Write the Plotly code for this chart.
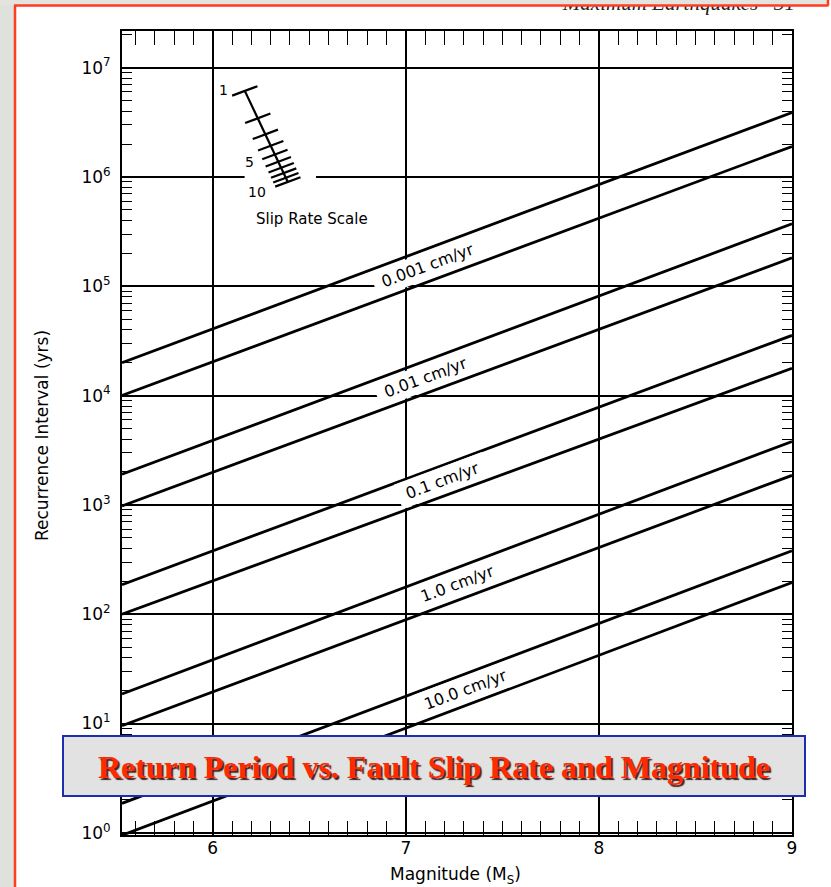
import math
import numpy as np
import plotly.graph_objects as go

W, H = 831, 887

# ---- data -------------------------------------------------------------
# Each slip rate is drawn as a band: an upper and a lower recurrence line,
# given by their recurrence intervals (years) at the two ends of the
# magnitude axis.
slip_rates = ["0.001", "0.01", "0.1", "1.0", "10.0"]
magnitude_ends = [5.53, 9.0]
upper_start = [19950, 1905, 186, 18.6, 1.86]
upper_end = [3.89e6, 3.72e5, 3.55e4, 3.80e3, 380]
lower_start = [10000, 977, 100, 9.55, 0.95]
lower_end = [1.90e6, 1.82e5, 1.78e4, 1.86e3, 195]

# magnitude at which each band's label is written
label_magnitudes = [7.11, 7.10, 7.19, 7.27, 7.31]

x_tick_values = [6, 7, 8, 9]
y_decades = [0, 1, 2, 3, 4, 5, 6, 7]

# one-decade slip-rate ruler (1 .. 10)
ruler_values = [1, 2, 3, 4, 5, 6, 7, 8, 9, 10]
ruler_labelled = ["1", "5", "10"]

# ---- geometry helpers --------------------------------------------------
X_RANGE = [magnitude_ends[0], magnitude_ends[1]]
Y_RANGE = [-0.02, 7.335]
PLOT_L, PLOT_R, PLOT_T, PLOT_B = 122, 792, 31, 835
px_per_mag = (PLOT_R - PLOT_L) / (X_RANGE[1] - X_RANGE[0])
px_per_dec = (PLOT_B - PLOT_T) / (Y_RANGE[1] - Y_RANGE[0])


def fx(px):
    return px / W


def fy(py):
    return 1 - py / H


def log_at(m, v0, v1):
    t = (m - magnitude_ends[0]) / (magnitude_ends[1] - magnitude_ends[0])
    return math.log10(v0) + t * (math.log10(v1) - math.log10(v0))


FONT = "DejaVu Sans, Liberation Sans, Arial, sans-serif"
NBSP = "\u00a0"

fig = go.Figure()

# slip-rate ruler geometry: one decade laid perpendicular to the bands
slope = (math.log10(upper_end[0]) - math.log10(upper_start[0])) / (magnitude_ends[1] - magnitude_ends[0])
angle = math.degrees(math.atan(slope * px_per_dec / px_per_mag))
ruler_origin = (6.166, 6.787)          # magnitude, log10(years) of the "1" end
ruler_step = (0.2228, -0.8326)         # per decade of slip rate

# white gap in the 10^6 grid line behind the ruler
fig.add_trace(go.Scatter(
    x=[6.165, 6.535], y=[1e6, 1e6], mode="lines",
    line=dict(color="white", width=6), hoverinfo="skip", showlegend=False,
))

# recurrence lines
for i, rate in enumerate(slip_rates):
    for start, end in ((upper_start, upper_end), (lower_start, lower_end)):
        fig.add_trace(go.Scatter(
            x=magnitude_ends, y=[start[i], end[i]], mode="lines",
            line=dict(color="black", width=2.8),
            hoverinfo="skip", showlegend=False,
        ))

annotations = []
for i, rate in enumerate(slip_rates):
    m = label_magnitudes[i]
    mid = 0.5 * (log_at(m, upper_start[i], upper_end[i]) + log_at(m, lower_start[i], lower_end[i]))
    annotations.append(dict(
        x=m, y=mid, xref="x", yref="y", text=f"{NBSP}{rate} cm/yr{NBSP}", showarrow=False,
        xanchor="center", yanchor="middle",
        textangle=-angle, bgcolor="white", borderpad=3,
        font=dict(family=FONT, size=16, color="black"),
    ))

a = math.radians(angle)
half = 13.5
tick_dm = half * math.cos(a) / px_per_mag
tick_dl = half * math.sin(a) / px_per_dec

rx, ry = [], []
p0 = ruler_origin
p1 = (ruler_origin[0] + ruler_step[0], ruler_origin[1] + ruler_step[1])
rx += [p0[0], p1[0], None]
ry += [10 ** p0[1], 10 ** p1[1], None]
tick_ends = {}
for v in ruler_values:
    f = math.log10(v)
    cm = ruler_origin[0] + f * ruler_step[0]
    cl = ruler_origin[1] + f * ruler_step[1]
    left = (cm - tick_dm, cl - tick_dl)
    right = (cm + tick_dm, cl + tick_dl)
    tick_ends[str(v)] = left
    rx += [left[0], right[0], None]
    ry += [10 ** left[1], 10 ** right[1], None]
fig.add_trace(go.Scatter(x=rx, y=ry, mode="lines", line=dict(color="black", width=2.2),
                         hoverinfo="skip", showlegend=False, connectgaps=False))

label_shift = {"1": (-2, 6), "5": (-6, -3), "10": (-7, -5)}
for lab in ruler_labelled:
    lm, ll = tick_ends[lab]
    dx, dy = label_shift[lab]
    annotations.append(dict(
        x=lm, y=ll, xref="x", yref="y", text=lab, showarrow=False,
        xanchor="right", yanchor="middle", xshift=dx, yshift=dy,
        font=dict(family=FONT, size=14, color="black"),
    ))

annotations.append(dict(
    x=fx(312), y=fy(219), xref="paper", yref="paper", text="Slip Rate Scale",
    xanchor="center", yanchor="middle",
    showarrow=False, font=dict(family=FONT, size=15, color="black"),
))

# running header of the page (cut by the top edge)
fig.add_trace(go.Scatter(
    x=[795], y=[5], mode="text", text=["Maximum Earthquakes   31"],
    textposition="middle left", cliponaxis=False,
    textfont=dict(family="Liberation Serif, serif", size=21, style="italic", color="#222222"),
    xaxis="x2", yaxis="y2", hoverinfo="skip", showlegend=False,
))

# axis titles
annotations.append(dict(
    x=fx(42), y=fy(436), xref="paper", yref="paper", text="Recurrence Interval (yrs)",
    xanchor="center", yanchor="middle",
    textangle=-90, showarrow=False, font=dict(family=FONT, size=17, color="black"),
))
annotations.append(dict(
    x=fx(455), y=fy(875), xref="paper", yref="paper", text="Magnitude (M<sub>S</sub>)",
    xanchor="center", yanchor="middle",
    showarrow=False, font=dict(family=FONT, size=17, color="black"),
))

# slide caption
annotations.append(dict(
    x=fx(434), y=fy(767), xref="paper", yref="paper",
    text="Return Period vs. Fault Slip Rate and Magnitude", showarrow=False,
    xanchor="center", yanchor="middle",
    font=dict(family="Liberation Serif, Times New Roman, serif", size=32, color="#ff2a00",
              weight="bold", shadow="2px 2px 1px rgba(40,0,0,0.85)"),
))

shapes = [
    # slide frame
    dict(type="rect", xref="paper", yref="paper", x0=0, x1=fx(14), y0=0, y1=1,
         fillcolor="#dfe1dc", line=dict(width=0), layer="above"),
    dict(type="rect", xref="paper", yref="paper", x0=0, x1=fx(828), y0=fy(5), y1=1,
         fillcolor="#e3e4e0", line=dict(width=0), layer="above"),
    dict(type="line", xref="paper", yref="paper", x0=fx(15), x1=fx(15), y0=0, y1=fy(5.5),
         line=dict(color="#ff3b20", width=2.5), layer="above"),
    dict(type="line", xref="paper", yref="paper", x0=fx(14), x1=fx(828.5), y0=fy(5.5), y1=fy(5.5),
         line=dict(color="#ff3b20", width=2.5), layer="above"),
    dict(type="line", xref="paper", yref="paper", x0=fx(828), x1=fx(828), y0=fy(5.5), y1=1,
         line=dict(color="#ff3b20", width=2.5), layer="above"),
    # caption box
    dict(type="rect", xref="paper", yref="paper", x0=fx(63), x1=fx(805), y0=fy(796), y1=fy(736),
         fillcolor="#e2e2e2", line=dict(color="#1b2fae", width=2), layer="above"),
]

y_tickvals = [10 ** d for d in y_decades]
y_ticktext = [f"10<sup>{d}</sup>" for d in y_decades]
y_minor = [k * 10 ** d for d in y_decades for k in range(2, 10) if k * 10 ** d < 10 ** Y_RANGE[1]]

fig.update_layout(
    width=W, height=H, margin=dict(l=0, r=0, t=0, b=0),
    paper_bgcolor="white", plot_bgcolor="rgba(0,0,0,0)",
    showlegend=False, font=dict(family=FONT, color="black"),
    xaxis=dict(
        domain=[fx(PLOT_L), fx(PLOT_R)], range=X_RANGE, anchor="y",
        tickmode="array", tickvals=x_tick_values,
        ticks="inside", ticklen=14, tickwidth=1.5, tickcolor="black",
        showline=True, linewidth=2, linecolor="black", mirror="allticks",
        showgrid=True, gridcolor="black", gridwidth=1.5, zeroline=False,
        minor=dict(tickmode="linear", tick0=0, dtick=0.1, ticks="inside", ticklen=14,
                   tickwidth=1.3, tickcolor="black", showgrid=False),
        tickfont=dict(family=FONT, size=17, color="black"), ticklabelstandoff=-3,
        automargin=False, fixedrange=True,
    ),
    yaxis=dict(
        type="log", domain=[fy(PLOT_B), fy(PLOT_T)], range=Y_RANGE, anchor="x",
        tickmode="array", tickvals=y_tickvals, ticktext=y_ticktext,
        ticks="inside", ticklen=10, tickwidth=1.5, tickcolor="black",
        showline=True, linewidth=2, linecolor="black", mirror="allticks",
        showgrid=True, gridcolor="black", gridwidth=1.5, zeroline=False,
        minor=dict(tickmode="array", tickvals=y_minor, ticks="inside", ticklen=10,
                   tickwidth=1.3, tickcolor="black", showgrid=False),
        tickfont=dict(family=FONT, size=17, color="black"), ticklabelstandoff=6,
        automargin=False, fixedrange=True,
    ),
    xaxis2=dict(domain=[0, 1], range=[0, W], visible=False, anchor="y2", fixedrange=True),
    yaxis2=dict(domain=[0, 1], range=[H, 0], visible=False, anchor="x2", fixedrange=True),
    annotations=annotations,
    shapes=shapes,
)

fig.write_html("out.html")
